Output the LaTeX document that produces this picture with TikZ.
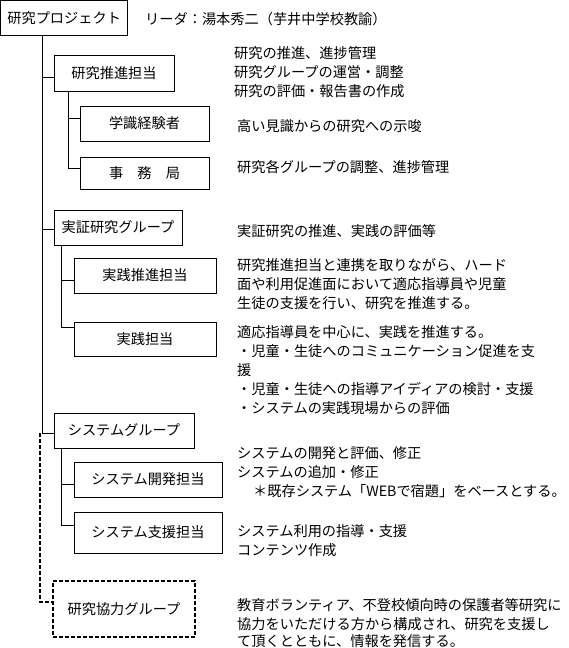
\documentclass[tikz,border=0pt]{standalone}
\usepackage{fontspec}
\setmainfont{Noto Sans CJK JP}
\begin{document}
\begin{tikzpicture}[x=1pt,y=-1pt,
  jf/.style={font=\fontsize{14.2pt}{19pt}\selectfont},
  box/.style={draw, line width=0.9pt, inner sep=0pt, jf},
  dbox/.style={draw, line width=1.6pt, dash pattern=on 4pt off 2pt, inner sep=0pt, jf},
  conn/.style={line width=0.9pt},
  dconn/.style={line width=1.6pt, dash pattern=on 4pt off 2pt},
  tx/.style={anchor=west, inner sep=0pt, jf}]
\useasboundingbox (0,0) rectangle (568,648);
% boxes
\node[box, minimum width=127pt, minimum height=34.5pt] (proj) at (64.2,17.75) {研究プロジェクト};
\node[box, minimum width=120pt, minimum height=36pt] (suishin) at (114,73) {研究推進担当};
\node[box, minimum width=129pt, minimum height=35pt] (gaku) at (144.5,123.5) {学識経験者};
\node[box, minimum width=129pt, minimum height=32pt] (jimu) at (144.5,173) {事　務　局};
\node[box, minimum width=128pt, minimum height=35pt] (jissho) at (118,227.5) {実証研究グループ};
\node[box, minimum width=142pt, minimum height=35pt] (jsui) at (145,275.5) {実践推進担当};
\node[box, minimum width=142pt, minimum height=34pt] (jissen) at (145,339) {実践担当};
\node[box, minimum width=140pt, minimum height=35pt] (sysg) at (124,430.5) {システムグループ};
\node[box, minimum width=148pt, minimum height=35pt] (sysdev) at (148,479.5) {システム開発担当};
\node[box, minimum width=148pt, minimum height=41pt] (syssup) at (148,532.5) {システム支援担当};
\node[dbox, minimum width=142pt, minimum height=56pt] (kyo) at (124,609) {研究協力グループ};
% trunk coordinates
\coordinate (t0) at (42,35.2);
\coordinate (t1) at (42,433);
\coordinate (b1) at (42,77);
\coordinate (b2) at (42,229);
\coordinate (s1a) at (68,91);
\coordinate (s1b) at (68,168);
\coordinate (g1) at (68,118);
\coordinate (s2a) at (61,245);
\coordinate (s2b) at (61,327);
\coordinate (g2) at (61,280);
\coordinate (s3a) at (61,448);
\coordinate (s3b) at (61,525);
\coordinate (g3) at (61,484);
\coordinate (d0) at (40,433);
\coordinate (d1) at (40,602);
% connectors
\draw[conn] (t0) -- (t1) -- (t1 -| sysg.west);
\draw[conn] (b1) -- (b1 -| suishin.west);
\draw[conn] (b2) -- (b2 -| jissho.west);
\draw[conn] (s1a) -- (s1b) -- (s1b -| jimu.west);
\draw[conn] (g1) -- (g1 -| gaku.west);
\draw[conn] (s2a) -- (s2b) -- (s2b -| jissen.west);
\draw[conn] (g2) -- (g2 -| jsui.west);
\draw[conn] (s3a) -- (s3b) -- (s3b -| syssup.west);
\draw[conn] (g3) -- (g3 -| sysdev.west);
\draw[dconn] (d0) -- (d1) -- (d1 -| kyo.west);
% texts
\node[tx] (lead) at (145,19) {リーダ：湯本秀二（芋井中学校教諭）};
\node[tx] (a1) at (234,53) {研究の推進、進捗管理};
\node[tx] (a2) at (234,72) {研究グループの運営・調整};
\node[tx] (a3) at (234,91) {研究の評価・報告書の作成};
\node[tx] (a4) at (237,126) {高い見識からの研究への示唆};
\node[tx] (a5) at (237,167) {研究各グループの調整、進捗管理};
\node[tx] (a6) at (237,231) {実証研究の推進、実践の評価等};
\node[tx] (a7) at (237,265) {研究推進担当と連携を取りながら、ハード};
\node[tx] (a8) at (237,284) {面や利用促進面において適応指導員や児童};
\node[tx] (a9) at (237,303) {生徒の支援を行い、研究を推進する。};
\node[tx] (a10) at (237,332) {適応指導員を中心に、実践を推進する。};
\node[tx] (a11) at (237,351) {・児童・生徒へのコミュニケーション促進を支};
\node[tx] (a12) at (237,370) {援};
\node[tx] (a13) at (237,389) {・児童・生徒への指導アイディアの検討・支援};
\node[tx] (a14) at (237,408) {・システムの実践現場からの評価};
\node[tx] (a15) at (237,453) {システムの開発と評価、修正};
\node[tx] (a16) at (237,472) {システムの追加・修正};
\node[tx] (a17) at (253,491) {＊既存システム「WEBで宿題」をベースとする。};
\node[tx] (a18) at (237,531) {システム利用の指導・支援};
\node[tx] (a19) at (237,550) {コンテンツ作成};
\node[tx] (a20) at (237,605) {教育ボランティア、不登校傾向時の保護者等研究に};
\node[tx] (a21) at (237,624) {協力をいただける方から構成され、研究を支援し};
\node[tx] (a22) at (237,641) {て頂くとともに、情報を発信する。};
\end{tikzpicture}
\end{document}
